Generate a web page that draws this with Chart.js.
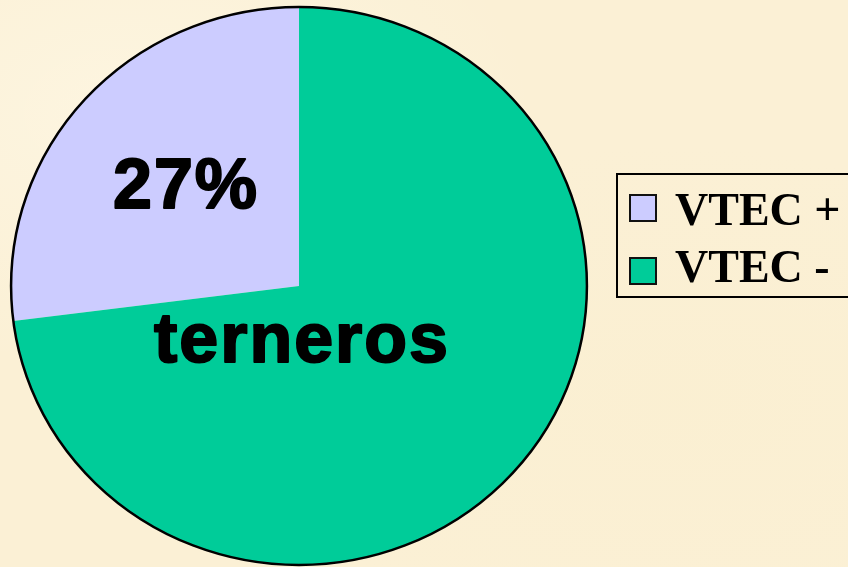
<!DOCTYPE html>
<html>
<head>
<meta charset="utf-8">
<script src="https://cdn.jsdelivr.net/npm/chart.js@4/dist/chart.umd.min.js"></script>
<style>
  html, body { margin: 0; padding: 0; background: #FBF0D5; }
  #wrap { position: relative; width: 848px; height: 567px;
    background:
      radial-gradient(ellipse at 15% 20%, rgba(255,250,235,0.5), rgba(255,250,235,0) 40%),
      radial-gradient(ellipse at 80% 70%, rgba(250,238,205,0.4), rgba(250,238,205,0) 45%),
      #FBF0D5; }
  canvas { display: block; }
</style>
</head>
<body>
<div id="wrap"><canvas id="c" width="848" height="567"></canvas></div>
<script>
const categories = ['VTEC +', 'VTEC -'];
const values = [27, 73];
const sliceColors = ['#CCCCFF', '#00CC99'];
const sliceLabels = ['27%', 'terneros'];

const stretchX = 1.032;

const ellipsePlugin = {
  id: 'ellipse',
  beforeDatasetsDraw(chart) {
    const meta = chart.getDatasetMeta(0);
    const a = meta.data[0];
    const ctx = chart.ctx;
    ctx.save();
    ctx.translate(a.x, a.y);
    ctx.scale(stretchX, 1);
    ctx.translate(-a.x, -a.y);
  },
  afterDatasetsDraw(chart) {
    const ctx = chart.ctx;
    ctx.restore();
    const meta = chart.getDatasetMeta(0);
    const a = meta.data[0];
    // outer outline only
    ctx.save();
    ctx.beginPath();
    ctx.ellipse(a.x, a.y, a.outerRadius * stretchX, a.outerRadius, 0, 0, Math.PI * 2);
    ctx.lineWidth = 2.5;
    ctx.strokeStyle = '#000';
    ctx.stroke();
    ctx.restore();

    // slice labels
    ctx.save();
    ctx.fillStyle = '#000';
    ctx.strokeStyle = '#000';
    ctx.lineWidth = 2;
    ctx.lineJoin = 'round';
    ctx.textAlign = 'center';
    ctx.textBaseline = 'alphabetic';
    ctx.font = 'bold 70px "Liberation Sans", Arial, sans-serif';
    ctx.letterSpacing = '2px';
    const pos = [[186, 208], [302, 362]];
    sliceLabels.forEach((t, i) => {
      ctx.fillText(t, pos[i][0], pos[i][1]);
      ctx.strokeText(t, pos[i][0], pos[i][1]);
    });
    ctx.restore();

    // legend
    ctx.save();
    ctx.lineWidth = 2;
    ctx.strokeStyle = '#000';
    ctx.strokeRect(617, 174, 240, 123);
    ctx.font = 'bold 46px "Liberation Serif", "Times New Roman", serif';
    ctx.textAlign = 'left';
    ctx.textBaseline = 'alphabetic';
    categories.forEach((lab, i) => {
      const y = 195 + i * 63;
      ctx.fillStyle = sliceColors[i];
      ctx.fillRect(630, y, 26, 26);
      ctx.lineWidth = 2;
      ctx.strokeStyle = '#111';
      ctx.strokeRect(630, y, 26, 26);
      ctx.fillStyle = '#000';
      ctx.fillText(lab, 675, 225 + i * 57);
    });
    ctx.restore();
  }
};

new Chart(document.getElementById('c'), {
  type: 'pie',
  data: {
    labels: categories,
    datasets: [{
      data: values,
      backgroundColor: sliceColors,
      borderWidth: 0
    }]
  },
  options: {
    responsive: false,
    animation: false,
    rotation: -values[0] / values.reduce((s, v) => s + v, 0) * 360,
    layout: { padding: { top: 7, bottom: 2, left: 20, right: 270 } },
    plugins: {
      legend: { display: false },
      tooltip: { enabled: false }
    }
  },
  plugins: [ellipsePlugin]
});
</script>
</body>
</html>
